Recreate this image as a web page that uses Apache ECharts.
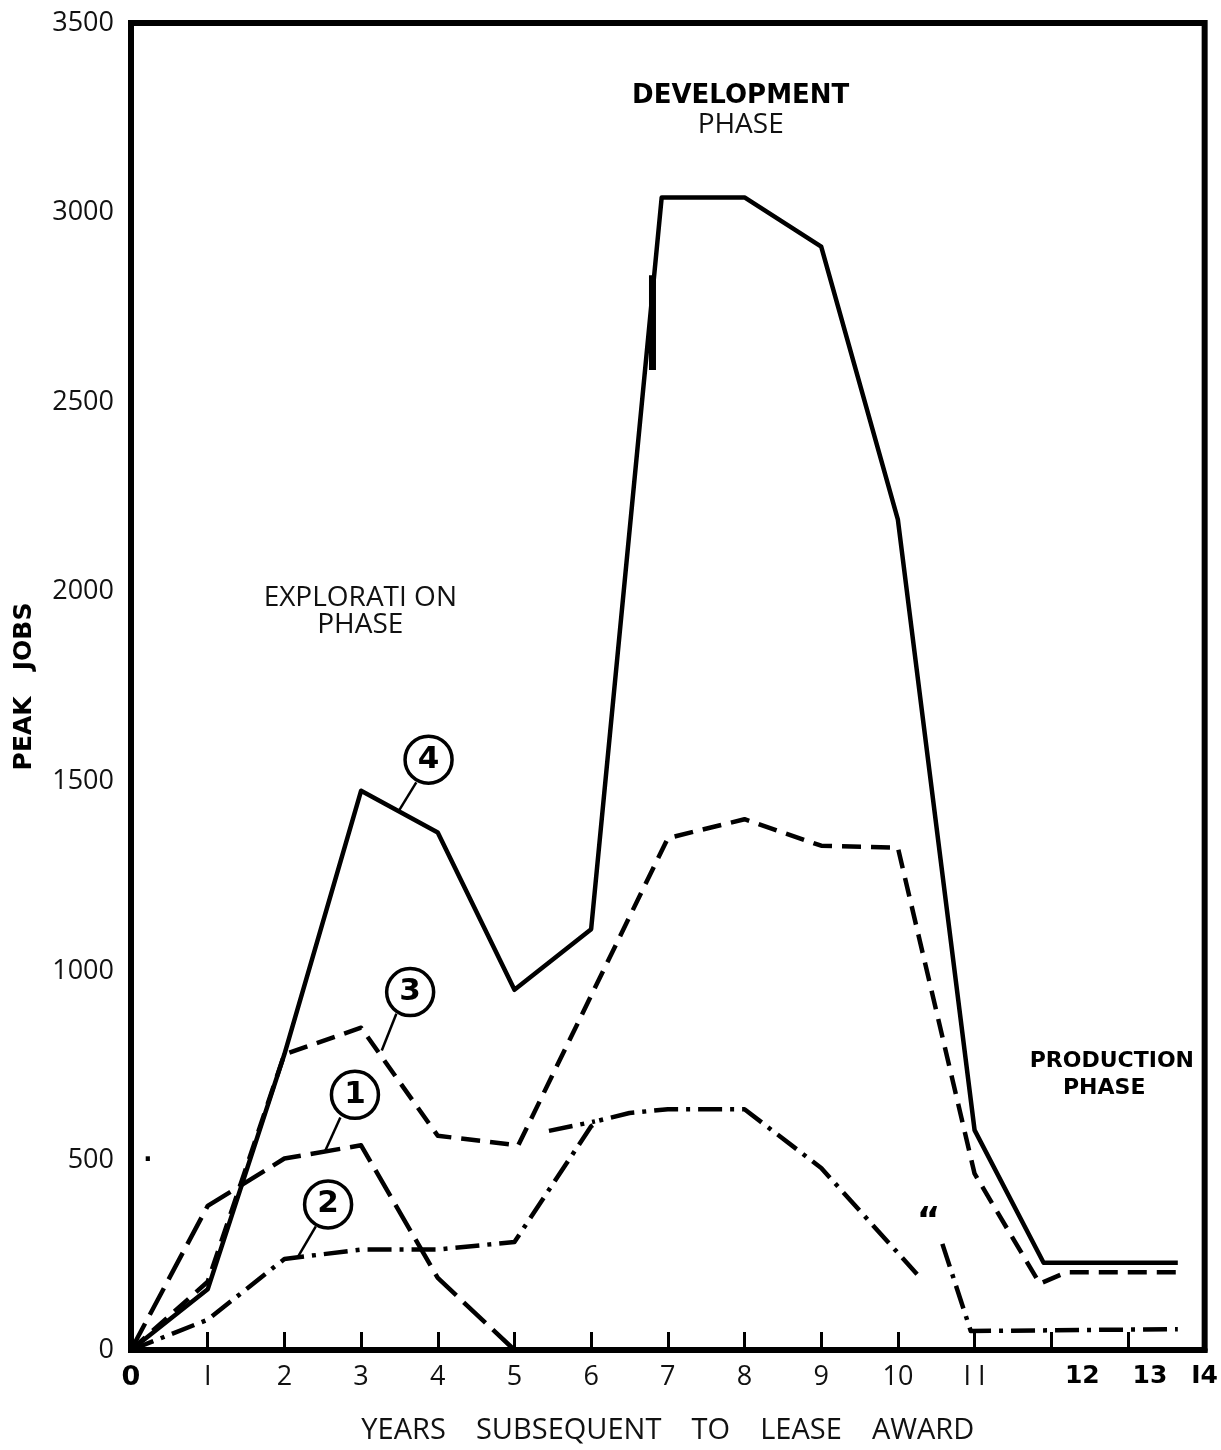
<!DOCTYPE html>
<html>
<head>
<meta charset="utf-8">
<script src="https://cdn.jsdelivr.net/npm/echarts@6/dist/echarts.min.js"></script>
<style>
html,body{margin:0;padding:0;background:#fff;}
#c{width:1221px;height:1450px;}
</style>
</head>
<body>
<div id="c"></div>
<script>
// ---- data ----
const yTicks = [0, 500, 1000, 1500, 2000, 2500, 3000, 3500];
const xTicks = [0,1,2,3,4,5,6,7,8,9,10,11,12,13,14];

// Curve 4 (solid)
const c4X = [0, 1, 2, 3, 4, 5, 6, 6.92, 8, 9, 10, 11, 11.9, 13.65];
const c4Y = [0, 160, 780, 1475, 1365, 950, 1110, 3040, 3040, 2910, 2190, 580, 230, 230];
// short thick stroke on curve 4 near year 7
const c4MarkX = [6.8, 6.8];
const c4MarkY = [2585, 2835];

// Curve 3 (dashed)
const c3X = [0, 1, 2, 3, 4, 5.05, 7, 8, 9, 10, 11, 11.85, 12.2, 13.65];
const c3Y = [0, 180, 780, 850, 565, 540, 1350, 1400, 1330, 1325, 465, 175, 205, 205];

// Curve 1 (long dash)
const c1X = [0, 1, 2, 3, 4, 5];
const c1Y = [0, 380, 505, 540, 190, 0];

// Curve 2 (dash-dot), drawn in pieces
const c2aX = [0, 1, 2, 3, 4, 5, 6, 6.1, 6.5, 7, 8, 9, 10.25];
const c2aY = [0, 80, 240, 265, 265, 285, 590, 605, 625, 635, 635, 480, 200];
const c2bX = [10.58, 10.95, 13.65];
const c2bY = [280, 50, 55];
const c2stubX = [5.45, 6.05];
const c2stubY = [578, 603];

// circled curve numbers and their leader lines
const tagNames = ['4', '3', '1', '2'];
const tagX = [3.88, 3.64, 2.92, 2.57];
const tagY = [1557, 944, 673, 384];
const leaderFromX = [3.72, 3.46, 2.73, 2.41];
const leaderFromY = [1497, 887, 613, 326];
const leaderToX = [3.48, 3.27, 2.53, 2.18];
const leaderToY = [1418, 790, 524, 247];

// phase annotations
const noteText = ['DEVELOPMENT', 'PHASE', 'EXPLORATI ON', 'PHASE', 'PRODUCTION', 'PHASE', '\u201C', '\u00B7'];
const noteX = [7.95, 7.95, 2.99, 2.99, 12.79, 12.69, 10.4, 0.22];
const noteY = [3306, 3230, 1983, 1912, 762, 690, 335, 500];
const noteStyle = ['b', 'n', 'n', 'n', 'p', 'p', 'q', 'd'];

// ---- build ----
const zip = (xs, ys) => xs.map((x, i) => [x, ys[i]]);
const FONT = 'Open Sans';
const LW = 4.5;

function lineSeries(xs, ys, type, width) {
  return {
    type: 'line', data: zip(xs, ys), symbol: 'none', silent: true,
    lineStyle: { color: '#000', width: width || LW, type: type, cap: 'butt', join: 'round', opacity: 1 },
    z: 3
  };
}

const DASHDOT = [24, 8, 4, 8];
const series = [
  lineSeries(c4X, c4Y, 'solid', LW),
  lineSeries(c4MarkX, c4MarkY, 'solid', 7),
  lineSeries(c3X, c3Y, [19, 10], LW),
  lineSeries(c1X, c1Y, [30, 10], LW),
  lineSeries(c2aX, c2aY, DASHDOT, LW),
  lineSeries(c2bX, c2bY, DASHDOT, LW),
  lineSeries(c2stubX, c2stubY, DASHDOT, LW),
  {
    type: 'lines', coordinateSystem: 'cartesian2d', silent: true, z: 4,
    lineStyle: { color: '#000', width: 2.5, opacity: 1 },
    data: leaderFromX.map((x, i) => ({ coords: [[x, leaderFromY[i]], [leaderToX[i], leaderToY[i]]] }))
  },
  {
    type: 'scatter', silent: true, z: 5,
    symbol: 'circle', symbolSize: 47,
    itemStyle: { color: '#fff', borderColor: '#000', borderWidth: 3.5, opacity: 1 },
    label: { show: true, position: 'inside', formatter: p => p.data[2], fontFamily: 'DejaVu Sans', fontWeight: 'bold', fontSize: 31, color: '#000' },
    data: tagX.map((x, i) => [x, tagY[i], tagNames[i]])
  },
  {
    type: 'scatter', silent: true, z: 5, symbolSize: 0,
    itemStyle: { opacity: 1 },
    label: {
      show: true, position: 'inside', color: '#000',
      formatter: p => '{' + p.data[3] + '|' + p.data[2] + '}',
      rich: {
        b: { fontFamily: 'DejaVu Sans', fontWeight: 'bold', fontSize: 26, color: '#000' },
        p: { fontFamily: 'DejaVu Sans', fontWeight: 'bold', fontSize: 22, color: '#000' },
        n: { fontFamily: FONT, fontSize: 28, color: '#111' },
        q: { fontFamily: 'DejaVu Sans', fontWeight: 'bold', fontSize: 36, color: '#000' },
        d: { fontFamily: 'DejaVu Sans', fontWeight: 'bold', fontSize: 24, color: '#000' }
      }
    },
    data: noteX.map((x, i) => [x, noteY[i], noteText[i], noteStyle[i]])
  }
];

const chart = echarts.init(document.getElementById('c'), null, { renderer: 'canvas' });
chart.setOption({
  backgroundColor: '#fff',
  animation: false,
  grid: { left: 131, right: 16, top: 23, bottom: 85, show: true, borderColor: '#000', borderWidth: 6, backgroundColor: 'transparent' },
  xAxis: {
    type: 'value', min: 0, max: 14, interval: 1,
    name: 'YEARS    SUBSEQUENT    TO    LEASE    AWARD', nameLocation: 'middle', nameGap: 66,
    nameTextStyle: { fontFamily: FONT, fontSize: 29, color: '#111' },
    axisLine: { show: true, lineStyle: { color: '#000', width: 6 } },
    axisTick: { show: true, inside: true, length: 18, lineStyle: { color: '#000', width: 3 } },
    splitLine: { show: false },
    axisLabel: {
      margin: 14, color: '#111', fontFamily: FONT, fontSize: 27,
      formatter: v => {
        if (v === 0) return '{z|0}';
        if (v === 1 || v === 11) return '{n|' + (v === 1 ? 'I' : 'I I') + '}';
        if (v === 12) return '{s12|12}';
        if (v === 13) return '{s13|13}';
        if (v === 14) return '{s14|I4}';
        return '{n|' + v + '}';
      },
      rich: {
        z: { fontFamily: 'DejaVu Sans', fontWeight: 'bold', fontSize: 27, color: '#000' },
        n: { fontFamily: FONT, fontSize: 27, color: '#111' },
        s12: { fontFamily: 'DejaVu Sans', fontWeight: 'bold', fontSize: 25, color: '#000', padding: [0, 0, 0, 62] },
        s13: { fontFamily: 'DejaVu Sans', fontWeight: 'bold', fontSize: 25, color: '#000', padding: [0, 0, 0, 44] },
        s14: { fontFamily: 'DejaVu Sans', fontWeight: 'bold', fontSize: 25, color: '#000', padding: [0, 0, 0, 0] }
      }
    }
  },
  yAxis: {
    type: 'value', min: 0, max: 3500, interval: 500,
    name: 'PEAK   JOBS', nameLocation: 'middle', nameGap: 94, nameRotate: 90,
    nameTextStyle: { fontFamily: 'DejaVu Sans', fontWeight: 'bold', fontSize: 25, color: '#000' },
    axisLine: { show: true, lineStyle: { color: '#000', width: 6 } },
    axisTick: { show: false },
    splitLine: { show: false },
    axisLabel: {
      margin: 17, color: '#111', fontFamily: FONT, fontSize: 27,
      formatter: v => yTicks.includes(v) ? String(v) : ''
    }
  },
  series: series
});
</script>
</body>
</html>
